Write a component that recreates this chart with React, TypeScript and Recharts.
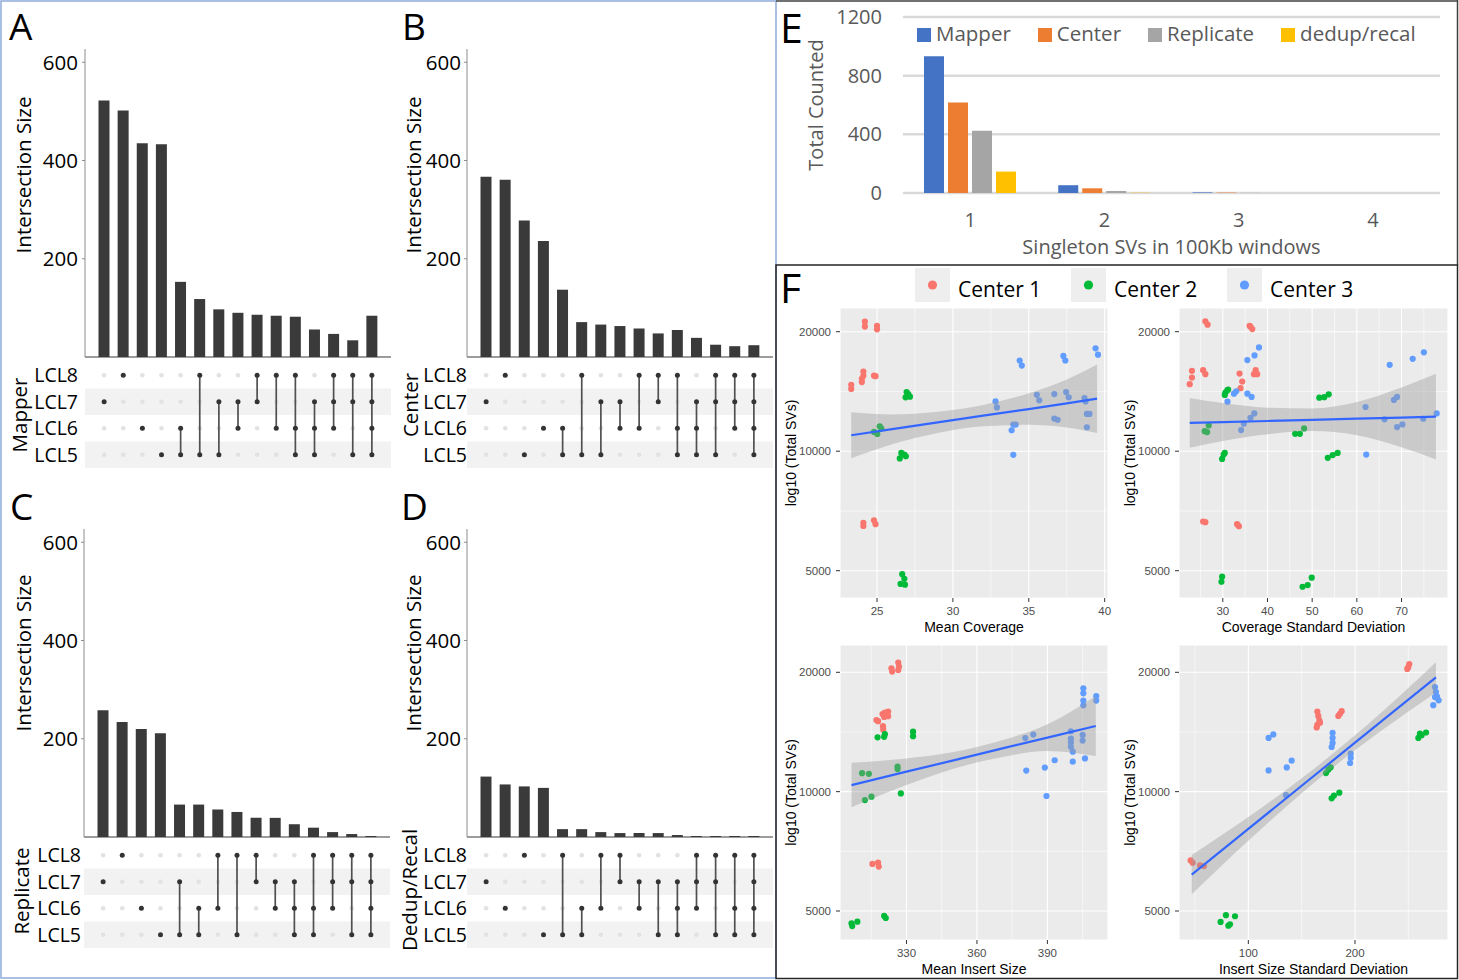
import React from 'react';
import {
  BarChart, Bar, XAxis, YAxis, CartesianGrid, ScatterChart, Scatter,
  ComposedChart, Area, Line, ReferenceArea, ReferenceLine, Legend,
} from 'recharts';

const FONT = '"Open Sans", sans-serif';
const SANS = '"Liberation Sans", Arial, sans-serif';

// ---------- A-D: UpSet plots ----------
const setNames = ['LCL5', 'LCL6', 'LCL7', 'LCL8'];

const mapperSizes = [522, 502, 435, 433, 153, 118, 97, 90, 86, 84, 82, 56, 47, 34, 84];
const mapperSets = [[7], [8], [6], [5], [6, 5], [8, 5], [7, 5], [7, 6], [8, 7], [8, 6], [8, 6, 5], [7, 6, 5], [8, 7, 6], [8, 7, 5], [8, 7, 6, 5]];

const centerSizes = [367, 361, 278, 236, 137, 71, 66, 63, 58, 48, 55, 39, 25, 22, 24];
const centerSets = [[7], [8], [5], [6], [6, 5], [8, 5], [7, 5], [7, 6], [8, 6], [8, 7], [8, 6, 5], [7, 6, 5], [8, 7, 5], [8, 7, 6], [8, 7, 6, 5]];

const replicateSizes = [258, 234, 220, 211, 66, 66, 56, 51, 39, 39, 26, 19, 10, 6, 2];
const replicateSets = [[7], [8], [6], [5], [7, 5], [6, 5], [8, 6], [8, 5], [8, 7], [7, 6], [7, 6, 5], [8, 6, 5], [8, 7, 6], [8, 7, 5], [8, 7, 6, 5]];

const dedupSizes = [123, 107, 103, 100, 16, 16, 10, 8, 8, 8, 4, 2, 2, 2, 2];
const dedupSets = [[7], [6], [8], [5], [8, 5], [6, 5], [8, 6], [8, 7], [7, 6], [7, 5], [7, 6, 5], [8, 7, 6], [8, 7, 5], [8, 6, 5], [8, 7, 6, 5]];

// ---------- E: singleton SVs ----------
const windowLabels = ['1', '2', '3', '4'];
const mapperCounts = [932, 53, 4, 0];
const centerCounts = [617, 32, 3, 0];
const replicateCounts = [425, 14, 1, 0];
const dedupCounts = [146, 2, 0, 0];

// ---------- F: total SVs vs QC metrics ----------
const coverageC1 = [[24.2, 21190], [24.2, 20600], [25.0, 20700], [25.0, 20280], [23.3, 14700], [23.3, 14350], [24.0, 15220], [24.0, 14930], [24.1, 15870], [24.1, 15500], [24.8, 15500], [24.9, 15450], [24.1, 6600], [24.1, 6480], [24.8, 6700], [24.9, 6550]];
const coverageC2 = [[26.95, 14090], [27.06, 13930], [27.17, 13720], [26.88, 13670], [27.01, 13820], [24.8, 11180], [25.02, 11050], [25.18, 11550], [25.29, 11400], [26.6, 9900], [26.8, 9810], [26.9, 9710], [26.5, 9590], [26.66, 4900], [26.8, 4770], [26.55, 4630], [26.84, 4610]];
const coverageC3 = [[34.4, 16920], [34.54, 16430], [37.28, 17380], [37.41, 16920], [39.4, 18160], [39.56, 17500], [32.81, 13350], [32.9, 12890], [35.53, 13870], [35.69, 13430], [36.68, 13930], [37.46, 14090], [37.63, 13670], [38.67, 13610], [38.74, 13350], [33.87, 11290], [33.98, 11670], [34.14, 11670], [33.98, 9790], [36.68, 12080], [36.9, 12000], [38.83, 12410], [39.0, 12410], [38.83, 11490]];
const coverageBandX = [23.3, 26, 29, 32, 35, 37.5, 39.5];
const coverageFit = [10970, 11360, 11820, 12290, 12770, 13200, 13560];
const coverageLow = [9600, 10410, 11120, 11550, 11650, 11480, 11120];
const coverageHigh = [12530, 12380, 12570, 13080, 14000, 15160, 16530];

const covSdC1 = [[26.1, 21240], [26.6, 20830], [36.2, 20590], [36.6, 20310], [36.0, 20700], [23.1, 15940], [23.1, 15330], [22.6, 14750], [25.6, 16000], [26.1, 15630], [33.75, 15690], [34.35, 14980], [33.97, 14410], [37.35, 16000], [37.7, 15630], [36.98, 15630], [25.6, 6652], [26.1, 6626], [33.2, 6550], [33.6, 6474]];
const covSdC2 = [[30.6, 14050], [31.0, 14240], [30.45, 13860], [31.2, 14300], [25.95, 11230], [26.5, 11170], [26.85, 11610], [29.85, 9563], [30.2, 9807], [30.45, 9900], [29.7, 4690], [29.85, 4830], [51.6, 13640], [52.7, 13680], [53.7, 13910], [46.2, 11060], [47.25, 11060], [48.2, 11410], [53.5, 9620], [54.6, 9780], [55.7, 9900], [47.85, 4556], [49.0, 4600], [49.9, 4801]];
const covSdC3 = [[31.05, 13330], [32.5, 13960], [33.0, 14150], [35.5, 16960], [37.1, 17430], [38.1, 18260], [35.5, 13960], [36.45, 13700], [37.05, 12450], [36.2, 12140], [34.1, 11300], [34.7, 11730], [61.95, 12920], [67.35, 16500], [72.5, 17090], [75.0, 17740], [68.3, 13460], [69.0, 13700], [66.2, 12030], [70.2, 11680], [69.0, 11500], [74.86, 12070], [77.86, 12450], [62.1, 9807]];
const covSdBandX = [22.6, 30, 40, 50, 60, 70, 77.7];
const covSdFit = [11780, 11835, 11915, 11995, 12075, 12155, 12220];
const covSdLow = [10200, 10610, 11030, 11235, 10970, 10225, 9530];
const covSdHigh = [13610, 13220, 12870, 12810, 13300, 14460, 15660];

const insertC1 = [[323.6, 20470], [323.9, 20080], [326.5, 21160], [326.8, 20670], [326.5, 20270], [317.2, 15160], [317.9, 15060], [319.8, 15700], [320.8, 15830], [322.2, 15930], [322.2, 15500], [320.5, 15430], [320.0, 14630], [320.1, 14330], [315.5, 6570], [317.9, 6620], [318.2, 6470]];
const insertC2 = [[317.7, 13710], [320.5, 13750], [320.8, 13960], [332.8, 14170], [332.8, 13800], [311.1, 11130], [314.0, 11090], [326.2, 11570], [326.2, 11400], [312.3, 9525], [315.1, 9710], [327.6, 9900], [306.6, 4654], [309.1, 4700], [306.9, 4580], [320.5, 4860], [321.2, 4800]];
const insertC3 = [[380.6, 13650], [384.0, 13930], [381.0, 11300], [388.9, 11500], [393.1, 12000], [389.6, 9750], [400.0, 14200], [400.0, 13600], [400.0, 13300], [400.0, 12970], [400.8, 12610], [400.8, 11900], [405.0, 13900], [405.0, 13450], [406.0, 12130], [405.3, 18220], [405.3, 17700], [405.3, 16970], [405.3, 16510], [410.8, 17420], [410.8, 16970]];
const insertBandX = [306.6, 330, 350, 370, 390, 410.6];
const insertFit = [10390, 11230, 11990, 12820, 13690, 14640];
const insertLow = [9130, 10390, 11430, 12200, 12660, 12300];
const insertHigh = [11835, 12130, 12590, 13440, 14790, 17430];

const insertSdC1 = [[45.9, 6706], [47.8, 6616], [54.7, 6513], [58.4, 6490], [164.7, 15920], [165.6, 15520], [166.6, 15120], [164.7, 14730], [164.1, 14520], [167.2, 14930], [184.4, 15520], [185.9, 15720], [187.5, 15960], [249.0, 20400], [250.9, 20990], [250.0, 20600]];
const insertSdC2 = [[74.0, 4693], [79.0, 4880], [81.3, 4590], [87.5, 4850], [82.8, 4630], [172.8, 11140], [175.0, 11360], [177.2, 11520], [178.1, 9622], [180.3, 9780], [185.3, 9940], [259.4, 13660], [262.5, 13880], [266.6, 14100], [260.9, 14010]];
const insertSdC3 = [[119.0, 13660], [123.4, 13940], [119.0, 11310], [136.0, 11510], [140.6, 11970], [135.3, 9800], [179.0, 14070], [179.0, 13660], [179.0, 13270], [178.1, 12960], [196.0, 12480], [196.0, 12170], [195.4, 11810], [275.0, 18360], [275.9, 17830], [275.0, 17320], [273.4, 16520], [276.9, 17380], [278.4, 17000]];
const insertSdBandX = [46.9, 100, 150, 200, 250, 275.9];
const insertSdFit = [6177, 8057, 10348, 13287, 17060, 19420];
const insertSdLow = [5514, 7522, 9911, 12720, 15924, 17780];
const insertSdHigh = [6921, 8630, 10802, 13870, 18270, 21210];

const svTicks = [5000, 10000, 20000];
const svMinor = [7071, 14142];
const centerColors = ['#F8766D', '#00BA38', '#619CFF'];
const centerNames = ['Center 1', 'Center 2', 'Center 3'];

// ---------- UpSet panel ----------
type UpsetProps = { ox: number; oy: number; sizes: number[]; sets: number[][]; tickGap: number; rowGap: number };

function UpsetPanel({ ox, oy, sizes, sets, tickGap, rowGap }: UpsetProps) {
  const barData = sizes.map((v, i) => ({ col: i + 1, size: v }));
  const cells: { x: number; y: number; on: boolean }[] = [];
  sets.forEach((s, i) => {
    setNames.forEach((name, j) => {
      cells.push({ x: i + 1, y: j + 1, on: s.includes(Number(name.slice(3))) });
    });
  });
  const connectors = sets
    .map((s, i) => ({ col: i + 1, rows: s.map(n => setNames.indexOf('LCL' + n) + 1) }))
    .filter(c => c.rows.length > 1)
    .map(c => [{ x: c.col, y: Math.min(...c.rows) }, { x: c.col, y: Math.max(...c.rows) }]);

  return (
    <>
      <div style={{ position: 'absolute', left: ox - 85, top: oy + 40 }}>
        <BarChart width={391} height={319} data={barData} margin={{ top: 9, right: 0, bottom: 0, left: 0 }}>
          <XAxis dataKey="col" type="category" tick={false} tickLine={false} height={2}
            axisLine={{ stroke: '#3a3a3a', strokeWidth: 1.2 }} padding={{ left: 9.5, right: 9.5 }} />
          <YAxis type="number" domain={[0, 627]} ticks={[200, 400, 600]} width={85} interval={0}
            tick={{ fill: '#000', fontSize: 20.5, fontFamily: FONT }} tickSize={3} tickMargin={tickGap}
            axisLine={{ stroke: '#8c8c8c' }} tickLine={{ stroke: '#8c8c8c' }} />
          <Bar dataKey="size" fill="#3a3a3a" barSize={11} isAnimationActive={false} />
        </BarChart>
      </div>
      <div style={{ position: 'absolute', left: ox - 85, top: oy + 362 }}>
        <ScatterChart width={391} height={106} margin={{ top: 0, right: 0, bottom: 0, left: 0 }}>
          <XAxis type="number" dataKey="x" domain={[0, 16]} hide />
          <YAxis type="number" dataKey="y" domain={[0.5, 4.5]} ticks={[1, 2, 3, 4]} width={85} interval={0}
            tickFormatter={(v: number) => setNames[v - 1]} axisLine={false} tickLine={false}
            tickSize={0} tickMargin={rowGap} tick={{ fill: '#000', fontSize: 19.5, fontFamily: FONT }} />
          <ReferenceArea y1={2.5} y2={3.5} fill="#f2f2f2" fillOpacity={1} stroke="none" />
          <ReferenceArea y1={0.5} y2={1.5} fill="#f2f2f2" fillOpacity={1} stroke="none" />
          <Scatter data={cells.filter(c => !c.on)} isAnimationActive={false}
            shape={(p: any) => <circle cx={p.cx} cy={p.cy} r={2.3} fill="#e2e2e2" />} />
          {connectors.map((seg, i) => (
            <Scatter key={i} data={seg} isAnimationActive={false}
              line={{ stroke: '#505050', strokeWidth: 1.7 }} shape={() => <g />} />
          ))}
          <Scatter data={cells.filter(c => c.on)} isAnimationActive={false}
            shape={(p: any) => <circle cx={p.cx} cy={p.cy} r={2.5} fill="#333" />} />
        </ScatterChart>
      </div>
    </>
  );
}

// ---------- E ----------
const eSeries = ['Mapper', 'Center', 'Replicate', 'dedup/recal'];
const eColors: Record<string, string> = { Mapper: '#4472C4', Center: '#ED7D31', Replicate: '#A5A5A5', 'dedup/recal': '#FFC000' };

function SingletonLegend() {
  return (
    <div style={{ display: 'flex', alignItems: 'center', fontFamily: FONT, fontSize: 20.5, color: '#595959', lineHeight: '22px', whiteSpace: 'nowrap' }}>
      {eSeries.map(k => (
        <div key={k} style={{ display: 'flex', alignItems: 'center', marginRight: 27 }}>
          <span style={{ display: 'inline-block', width: 14, height: 14, background: eColors[k], marginRight: 5, marginTop: 3 }} />
          <span>{k}</span>
        </div>
      ))}
    </div>
  );
}

function SingletonChart() {
  const data = windowLabels.map((w, i) => ({
    window: w,
    Mapper: mapperCounts[i],
    Center: centerCounts[i],
    Replicate: replicateCounts[i],
    'dedup/recal': dedupCounts[i],
  }));
  const txt = { fill: '#595959', fontSize: 20, fontFamily: FONT };
  return (
    <div style={{ position: 'absolute', left: 776, top: 0 }}>
      <BarChart width={682} height={265} data={data} margin={{ top: 17, right: 18, bottom: 12, left: 27 }} barGap={4}>
        <CartesianGrid vertical={false} stroke="#d9d9d9" strokeWidth={2.5} />
        <XAxis dataKey="window" axisLine={false} tickLine={false} tickSize={0} tickMargin={20} height={60}
          tick={txt} label={{ value: 'Singleton SVs in 100Kb windows', position: 'insideBottom', offset: -1, ...txt }} />
        <YAxis domain={[0, 1200]} ticks={[0, 400, 800, 1200]} width={100} axisLine={false} tickLine={false}
          tickSize={0} tickMargin={21} tick={txt} interval={0}
          label={{ value: 'Total Counted', angle: -90, position: 'insideLeft', offset: 13, style: { textAnchor: 'middle' }, ...txt }} />
        <Legend verticalAlign="middle" align="center" content={<SingletonLegend />}
          wrapperStyle={{ top: 22, left: 141, width: 'auto', height: 24 }} />
        {eSeries.map(k => (
          <Bar key={k} dataKey={k} fill={eColors[k]} barSize={20} isAnimationActive={false} />
        ))}
      </BarChart>
    </div>
  );
}

// ---------- F ----------
type ScatterProps = {
  plotLeft: number; plotTop: number; plotW: number; plotH: number;
  xDomain: [number, number]; xTicks: number[]; xMinor: number[]; yDomain: [number, number];
  xTitle: string; groups: number[][][];
  bandX: number[]; fit: number[]; low: number[]; high: number[];
};

function ScatterPanel(p: ScatterProps) {
  const bandData = p.bandX.map((x, i) => ({
    x,
    fit: Math.log10(p.fit[i]),
    band: [Math.log10(p.low[i]), Math.log10(p.high[i])],
  }));
  const yTicks = svTicks.map(v => Math.log10(v));
  const tickStyle = { fill: '#4d4d4d', fontSize: 11.5, fontFamily: SANS };
  const titleStyle = { fill: '#000', fontSize: 14, fontFamily: SANS };
  return (
    <div style={{ position: 'absolute', left: p.plotLeft - 62, top: p.plotTop - 2 }}>
      <ComposedChart width={p.plotW + 66} height={p.plotH + 44} data={bandData}
        margin={{ top: 2, right: 4, bottom: 0, left: 0 }}>
        <CartesianGrid fill="#EBEBEB" stroke="#ffffff" strokeWidth={1.1} />
        {p.xMinor.map(v => (
          <ReferenceLine key={'x' + v} x={v} stroke="#ffffff" strokeWidth={0.55} zIndex={-90} />
        ))}
        {svMinor.map(v => (
          <ReferenceLine key={'y' + v} y={Math.log10(v)} stroke="#ffffff" strokeWidth={0.55} zIndex={-90} />
        ))}
        <XAxis type="number" dataKey="x" domain={p.xDomain} ticks={p.xTicks} allowDataOverflow height={42} interval={0}
          axisLine={false} tickSize={4} tickMargin={5} tickLine={{ stroke: '#333' }} tick={tickStyle}
          label={{ value: p.xTitle, position: 'insideBottom', offset: 8, ...titleStyle }} />
        <YAxis type="number" domain={p.yDomain} ticks={yTicks} allowDataOverflow width={62} interval={0}
          axisLine={false} tickSize={4} tickMargin={5} tickLine={{ stroke: '#333' }} tick={tickStyle}
          tickFormatter={(v: number) => String(Math.round(Math.pow(10, v)))}
          label={{ value: 'log10 (Total SVs)', angle: -90, position: 'insideLeft', offset: 13, style: { textAnchor: 'middle' }, ...titleStyle }} />
        {p.groups.map((g, gi) => (
          <Scatter key={gi} name={centerNames[gi]} dataKey="y" isAnimationActive={false}
            data={g.map(([x, t]) => ({ x, y: Math.log10(t) }))}
            shape={(s: any) => <circle cx={s.cx} cy={s.cy} r={3.1} fill={centerColors[gi]} />} />
        ))}
        <Area dataKey="band" type="monotone" fill="#999999" fillOpacity={0.4} stroke="none"
          isAnimationActive={false} zIndex={650} />
        <Line dataKey="fit" type="linear" stroke="#3366FF" strokeWidth={2.2} dot={false}
          isAnimationActive={false} zIndex={660} />
      </ComposedChart>
    </div>
  );
}

// ---------- frames, panel letters, shared titles ----------
function Overlay() {
  const letter = { fontFamily: FONT, fill: '#000' };
  const rot = (x: number, y: number, text: string, size = 20.5) => (
    <text transform={`translate(${x},${y}) rotate(-90)`} textAnchor="middle" dominantBaseline="central"
      fontFamily={FONT} fontSize={size} fill="#000">{text}</text>
  );
  const legendX = [915, 1071, 1227];
  return (
    <svg width={1459} height={980} style={{ position: 'absolute', left: 0, top: 0, pointerEvents: 'none' }}>
      <rect x={1} y={1} width={775} height={977} fill="none" stroke="#8FAADC" strokeWidth={1.5} />
      <line x1={776} y1={1} x2={1458} y2={1} stroke="#404040" strokeWidth={1.5} />
      <line x1={1457.5} y1={0} x2={1457.5} y2={265} stroke="#404040" strokeWidth={1.5} />
      <rect x={776} y={265} width={681.5} height={713.5} fill="none" stroke="#262626" strokeWidth={1.5} />

      <text x={9} y={40} fontSize={37} {...letter}>A</text>
      <text x={402} y={40} fontSize={37} {...letter}>B</text>
      <text x={10} y={520} fontSize={37} {...letter}>C</text>
      <text x={401} y={520} fontSize={37} {...letter}>D</text>
      <text x={780} y={43} fontSize={41} {...letter}>E</text>
      <text x={780} y={303} fontSize={41} {...letter}>F</text>

      {rot(22.8, 175, 'Intersection Size')}
      {rot(413, 175, 'Intersection Size')}
      {rot(22.8, 653, 'Intersection Size')}
      {rot(413, 653, 'Intersection Size')}
      {rot(19, 415, 'Mapper')}
      {rot(410, 405, 'Center')}
      {rot(21, 891, 'Replicate')}
      {rot(409, 890, 'Dedup/Recal')}

      {centerNames.map((n, i) => (
        <g key={n}>
          <rect x={legendX[i]} y={268} width={35} height={34} fill="#EEEEEE" />
          <circle cx={legendX[i] + 17.5} cy={285} r={4.6} fill={centerColors[i]} />
          <text x={legendX[i] + 43} y={297} fontFamily={FONT} fontSize={21} fill="#000">{n}</text>
        </g>
      ))}
    </svg>
  );
}

export default function App() {
  const bottomY: [number, number] = [3.6258, 4.3699];
  return (
    <div style={{ position: 'absolute', left: 0, top: 0, width: 1459, height: 980, background: '#fff', overflow: 'hidden' }}>
      <UpsetPanel ox={85} oy={0} sizes={mapperSizes} sets={mapperSets} tickGap={4} rowGap={7} />
      <UpsetPanel ox={467} oy={0} sizes={centerSizes} sets={centerSets} tickGap={3} rowGap={0} />
      <UpsetPanel ox={84} oy={480} sizes={replicateSizes} sets={replicateSets} tickGap={3} rowGap={3} />
      <UpsetPanel ox={467} oy={480} sizes={dedupSizes} sets={dedupSets} tickGap={3} rowGap={0} />
      <SingletonChart />
      <ScatterPanel plotLeft={840} plotTop={308} plotW={268} plotH={290}
        xDomain={[22.56, 40.22]} xTicks={[25, 30, 35, 40]} xMinor={[27.5, 32.5, 37.5]} yDomain={[3.6302, 4.3607]}
        xTitle="Mean Coverage" groups={[coverageC1, coverageC2, coverageC3]}
        bandX={coverageBandX} fit={coverageFit} low={coverageLow} high={coverageHigh} />
      <ScatterPanel plotLeft={1179} plotTop={308} plotW={269} plotH={290}
        xDomain={[20.2, 80.4]} xTicks={[30, 40, 50, 60, 70]} xMinor={[25, 35, 45, 55, 65, 75]} yDomain={[3.6302, 4.3607]}
        xTitle="Coverage Standard Deviation" groups={[covSdC1, covSdC2, covSdC3]}
        bandX={covSdBandX} fit={covSdFit} low={covSdLow} high={covSdHigh} />
      <ScatterPanel plotLeft={840} plotTop={645} plotW={268} plotH={295}
        xDomain={[301.7, 415.8]} xTicks={[330, 360, 390]} xMinor={[315, 345, 375, 405]} yDomain={bottomY}
        xTitle="Mean Insert Size" groups={[insertC1, insertC2, insertC3]}
        bandX={insertBandX} fit={insertFit} low={insertLow} high={insertHigh} />
      <ScatterPanel plotLeft={1179} plotTop={645} plotW={269} plotH={295}
        xDomain={[35, 287.2]} xTicks={[100, 200]} xMinor={[50, 150, 250]} yDomain={bottomY}
        xTitle="Insert Size Standard Deviation" groups={[insertSdC1, insertSdC2, insertSdC3]}
        bandX={insertSdBandX} fit={insertSdFit} low={insertSdLow} high={insertSdHigh} />
      <Overlay />
    </div>
  );
}
